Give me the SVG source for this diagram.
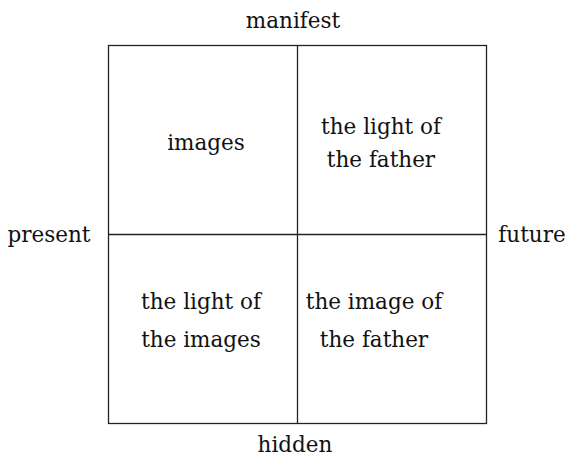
<svg xmlns="http://www.w3.org/2000/svg" width="570" height="461" viewBox="0 0 570 461">
<style>
text{font-family:"DejaVu Serif","Liberation Serif",serif;font-size:21.5px;fill:#111;text-anchor:middle}
.ln{stroke:#222;stroke-width:1.3;fill:none}
</style>
<rect x="0" y="0" width="570" height="461" fill="#fff"/>
<g id="connectors">
<rect class="ln" x="108.5" y="45.5" width="378" height="378"/>
<line class="ln" x1="297.5" y1="45.5" x2="297.5" y2="423.5"/>
<line class="ln" x1="108.5" y1="234.5" x2="486.5" y2="234.5"/>
</g>
<g id="manifest"><text x="293" y="28">manifest</text></g>
<g id="hidden"><text x="295" y="452">hidden</text></g>
<g id="present"><text x="49" y="242">present</text></g>
<g id="future"><text x="532" y="242">future</text></g>
<g id="q1"><text x="206" y="150">images</text></g>
<g id="q2"><text x="381" y="134">the light of</text><text x="381" y="167">the father</text></g>
<g id="q3"><text x="201" y="309">the light of</text><text x="201" y="347">the images</text></g>
<g id="q4"><text x="374" y="309">the image of</text><text x="374" y="347">the father</text></g>
</svg>
